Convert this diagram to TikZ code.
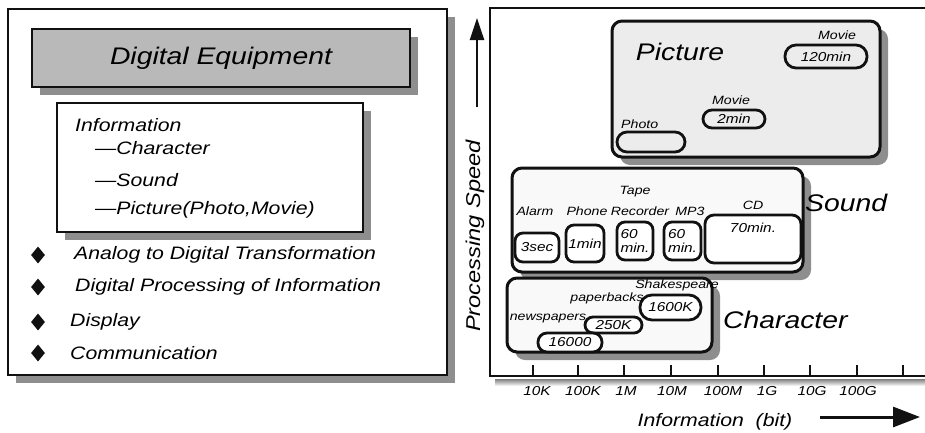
\documentclass[tikz,border=0pt]{standalone}
\usepackage{fontspec}
\setmainfont{Liberation Sans}[FakeStretch=1.18]
\usetikzlibrary{positioning,arrows.meta,shapes.geometric,shadows}
\definecolor{ink}{HTML}{111111}
\definecolor{stipple}{HTML}{B9B9B9}
\definecolor{shade}{HTML}{8E8E8E}
\definecolor{haze}{HTML}{ECECEC}
\definecolor{mist}{HTML}{F9F9F9}
\tikzset{
  frame/.style  = {draw=ink, line width=2.3pt, fill=white, inner sep=0pt,
                   drop shadow={shadow xshift=8pt, shadow yshift=-8pt, fill=shade, opacity=1}},
  grp/.style    = {draw=ink, line width=3pt, rounded corners=10pt, inner sep=0pt,
                   drop shadow={shadow xshift=8pt, shadow yshift=-8pt, fill=shade, opacity=1}},
  pill/.style   = {draw=ink, line width=2.8pt, inner sep=0pt, fill=white},
  tag/.style    = {font=\fontsize{12}{13}\selectfont\itshape, inner sep=0pt},
  val/.style    = {font=\fontsize{13}{14}\selectfont\itshape, inner sep=0pt},
  big/.style    = {font=\fontsize{24}{26}\selectfont\itshape, inner sep=0pt},
  txt/.style    = {font=\fontsize{18}{20}\selectfont\itshape, inner sep=0pt, anchor=west},
  dia/.style    = {diamond, fill=ink, minimum width=14pt, minimum height=17pt, inner sep=0pt},
  axis/.style   = {draw=ink, line width=2.8pt},
  heavy/.style  = {draw=ink, line width=2.4pt, -{Triangle[length=20pt, width=16pt]}},
}
\begin{document}
\begin{tikzpicture}[x=1pt, y=-1pt]
  \useasboundingbox (0,0) rectangle (925,432);
  % left panel
  \node[frame, minimum width=439, minimum height=366] (left) at (227.5,192) {};
  \node[frame, fill=stipple, minimum width=378, minimum height=58,
        font=\fontsize{24}{26}\selectfont\itshape] (title) at (221,58) {Digital Equipment};
  \node[frame, minimum width=306, minimum height=129] (info) at (210,167.5) {};
  \node[txt] (inf) at (75,125) {Information};
  \foreach \y/\lab [count=\i] in {148/Character, 180/Sound, 210/{Picture(Photo,Movie)}}
    \node[txt] (kind\i) at (95,\y) {—\lab};
  \foreach \y/\x/\lab [count=\i] in {255/74/{Analog to Digital Transformation},
      287/75/{Digital Processing of Information}, 322/70/Display, 353/70/Communication}{
    \node[dia] (d\i) at (38,\y) {};
    \node[txt] (task\i) at (\x,\y) {\lab};}
  % right panel
  \coordinate (tr) at (925,8);
  \coordinate (tl) at (490,8);
  \coordinate (o) at (490,376);
  \coordinate (br) at (925,376);
  \fill[shade] (495,379) rectangle (925,386);
  \draw[axis] (tr) -- (tl) -- (o) -- (br);
  \foreach \x in {533,578,624,671,718,764,810,857,903}
    \draw[ink, line width=2.2pt] (\x,376) -- (\x,365);
  \foreach \x/\lab in {537/10K, 583/100K, 626/1M, 672/10M, 723/100M, 767/1G, 812/10G, 858/100G}
    \node[val] (t\lab) at (\x,391) {\lab};
  \node[font=\fontsize{20}{21}\selectfont\itshape, inner sep=0pt, rotate=90] (speed) at (475,236) {Processing Speed};
  \coordinate (up0) at (477,107);
  \coordinate (up1) at (477,18);
  \draw[heavy, -{Triangle[length=22pt, width=14pt]}] (up0) -- (up1);
  \node[font=\fontsize{18}{20}\selectfont\itshape, inner sep=0pt] (bits) at (715,422) {Information\ \ (bit)};
  \coordinate (rt0) at (820,417);
  \coordinate (rt1) at (920,417);
  \draw[heavy, line width=3pt, -{Triangle[length=27pt, width=20pt]}] (rt0) -- (rt1);
  % picture
  \node[grp, fill=haze, minimum width=268, minimum height=136] (pic) at (746,89) {};
  \node[big] (picT) at (680,52) {Picture};
  \node[tag] (mv1) at (837,35) {Movie};
  \node[pill, fill=haze, val, rounded corners=11pt, minimum width=82, minimum height=23] (m120) at (826,56.5) {120min};
  \node[tag] (mv2) at (731,100) {Movie};
  \node[pill, fill=haze, val, rounded corners=9pt, minimum width=62, minimum height=18] (m2) at (734,119) {2min};
  \node[tag, anchor=west] (ph) at (621,124) {Photo};
  \node[pill, fill=haze, rounded corners=10pt, minimum width=68, minimum height=20] (photo) at (651,142) {};
  % sound
  \node[grp, fill=mist, minimum width=291, minimum height=104] (snd) at (657.5,220) {};
  \node[big, anchor=west] (sndT) at (805,203) {Sound};
  \foreach \x/\lab in {535/Alarm, 587/Phone, 640/Recorder, 690/MP3}
    \node[tag] (l\lab) at (\x,211) {\lab};
  \node[tag] (tape) at (635,192) {Tape};
  \node[tag] (cdT) at (753,205) {CD};
  \node[pill, val, rounded corners=8pt, minimum width=44, minimum height=29] (alarm) at (537,247.5) {3sec};
  \node[pill, val, rounded corners=8pt, minimum width=38, minimum height=37] (phone) at (585,243.5) {1min};
  \node[pill, val, align=left, rounded corners=8pt, minimum width=36, minimum height=38] (rec) at (635,241) {60\\min.};
  \node[pill, val, align=left, rounded corners=8pt, minimum width=37, minimum height=38] (mp3) at (682.5,241) {60\\min.};
  \node[pill, rounded corners=9pt, minimum width=96, minimum height=48] (cd) at (753,239) {};
  \node[val] (cdV) at (753,228) {70min.};
  % character
  \node[grp, fill=mist, minimum width=205, minimum height=74] (chr) at (609.5,315) {};
  \node[big, anchor=west] (chrT) at (723,320) {Character};
  \node[tag] (shk) at (677,285) {Shakespeare};
  \node[pill, val, rounded corners=12pt, minimum width=61, minimum height=25] (k1600) at (670.5,307.5) {1600K};
  \node[tag] (pb) at (607,298) {paperbacks};
  \node[pill, val, rounded corners=8pt, minimum width=57, minimum height=16] (k250) at (613.5,325) {250K};
  \node[tag] (np) at (548,319) {newspapers};
  \node[pill, val, rounded corners=9pt, minimum width=64, minimum height=19] (n16000) at (570,342.5) {16000};
\end{tikzpicture}
\end{document}
